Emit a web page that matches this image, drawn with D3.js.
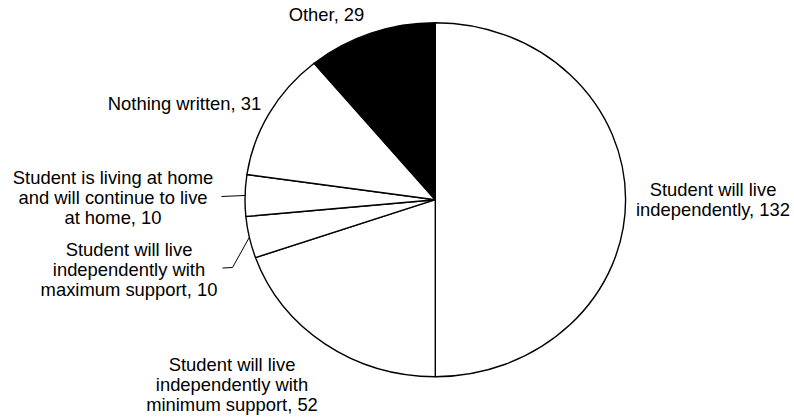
<!DOCTYPE html>
<html>
<head>
<meta charset="utf-8">
<script src="https://cdn.jsdelivr.net/npm/d3@7"></script>
<style>
  html, body { margin: 0; padding: 0; background: #fff; }
  svg { display: block; }
  text { font-family: "Liberation Sans", Arial, Helvetica, sans-serif; fill: #000; }
</style>
</head>
<body>
<script>
// Post-school living arrangements, counts of students
const categories = [
  "Student will live\nindependently",
  "Student will live\nindependently with\nminimum support",
  "Student will live\nindependently with\nmaximum support",
  "Student is living at home\nand will continue to live\nat home",
  "Nothing written",
  "Other"
];
const values = [132, 52, 10, 10, 31, 29];
const fills = ["#fff", "#fff", "#fff", "#fff", "#fff", "#000"];

const W = 794, H = 417;
const cx = 435.3, cy = 199.7;
const rx = 190.3, ry = 177;   // the pie is drawn slightly wider than tall

// label anchors (centre of the text block, first baseline) and leader lines
const labelLayout = [
  { x: 713, y: 196, leader: null },
  { x: 232, y: 371, leader: null },
  { x: 129, y: 255.5, leader: [[222.5, 268], [232.5, 267.5]] },
  { x: 113, y: 184, leader: [[221.5, 196.5]] },
  { x: 184.5, y: 109.5, leader: null },
  { x: 326.5, y: 20.5, leader: null }
];
const fontSize = 18.4, lineStep = 20.2;

const svg = d3.select("body").append("svg")
  .attr("width", W).attr("height", H);

const pie = d3.pie().sort(null).value(d => d)(values);
const arc = d3.arc().innerRadius(0).outerRadius(ry);

const g = svg.append("g")
  .attr("transform", `translate(${cx},${cy}) scale(${rx / ry},1)`);

g.selectAll("path.slice")
  .data(pie)
  .join("path")
  .attr("class", "slice")
  .attr("d", arc)
  .attr("fill", (d, i) => fills[i])
  .attr("stroke", "#000")
  .attr("stroke-width", 1.4)
  .attr("stroke-linejoin", "round")
  .attr("vector-effect", "non-scaling-stroke");

// point on the outer rim at the middle angle of a slice
function rimPoint(d) {
  const a = (d.startAngle + d.endAngle) / 2;
  return [cx + rx * Math.sin(a), cy - ry * Math.cos(a)];
}

const labels = svg.append("g");
pie.forEach((d, i) => {
  const lay = labelLayout[i];
  const lines = categories[i].split("\n");
  lines[lines.length - 1] += ", " + values[i];
  const t = labels.append("text")
    .attr("text-anchor", "middle")
    .attr("font-size", fontSize);
  lines.forEach((ln, k) => {
    t.append("tspan")
      .attr("x", lay.x)
      .attr("y", lay.y + k * lineStep)
      .text(ln);
  });
  if (lay.leader) {
    const pts = lay.leader.concat([rimPoint(d)]);
    labels.append("path")
      .attr("d", d3.line()(pts))
      .attr("fill", "none")
      .attr("stroke", "#000")
      .attr("stroke-width", 1);
  }
});
</script>
</body>
</html>
